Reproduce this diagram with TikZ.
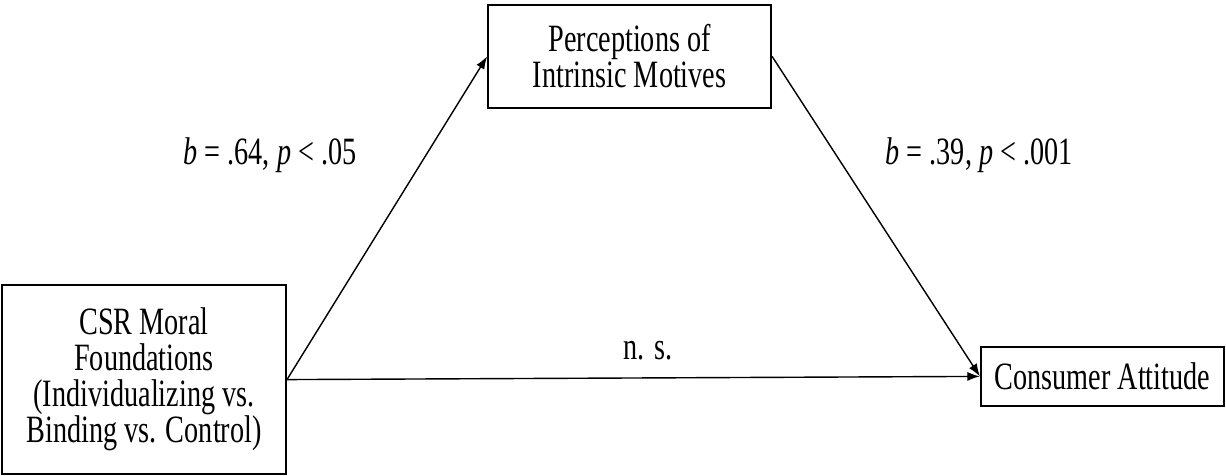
\documentclass[tikz,border=0pt]{standalone}
\usepackage{fontspec}
\setmainfont{Liberation Serif}[FakeStretch=0.73]
\usetikzlibrary{arrows.meta}
\begin{document}
\begin{tikzpicture}[
  box/.style={draw,line width=1.4pt,inner sep=0pt,align=center,
    font=\fontsize{27.5}{25.6}\selectfont},
  lbl/.style={font=\fontsize{27.5}{25.6}\selectfont,anchor=base},
  path/.style={line width=1pt,-{Latex[length=9pt,width=6.5pt]}}]
% Modele de mediation
\useasboundingbox (0,0) rectangle (30.65,11.9);
\node[box,minimum width=7.1cm,minimum height=4.725cm] (csr) at (3.6,2.41)
  {CSR Moral\\Foundations\\(Individualizing vs.\\Binding vs. Control)};
\node[box,minimum width=7.075cm,minimum height=2.575cm] (motive) at (15.74,10.49)
  {Perceptions of\\Intrinsic Motives};
\node[box,minimum width=6.075cm,minimum height=1.475cm] (attitude) at (27.56,2.49)
  {Consumer Attitude};
\draw[path] (csr.east) -- (motive.west);
\draw[path] (motive.east) -- (attitude.west);
\draw[path] (csr.east) -- (attitude.west);
\node[lbl] (a) at (6.75,7.78) {\textit{b} = .64, \textit{p} < .05};
\node[lbl] (b) at (24.48,7.78) {\textit{b} = .39, \textit{p} < .001};
\node[lbl] (c) at (16.2,2.9) {n. s.};
\end{tikzpicture}
\end{document}
